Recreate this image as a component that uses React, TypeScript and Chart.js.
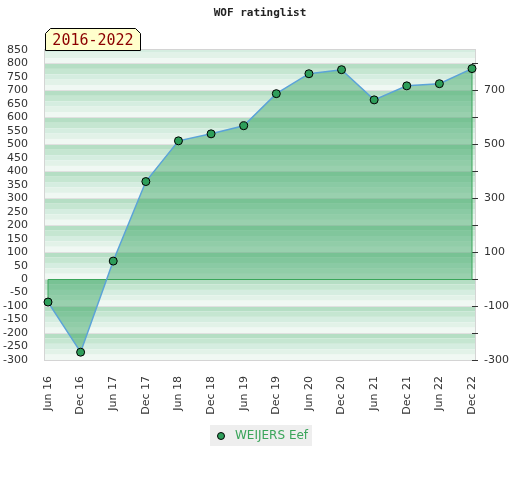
import React, { useEffect, useRef } from "react";
import { Chart, registerables } from "chart.js";

Chart.register(...registerables);

const categories = ["Jun 16", "Dec 16", "Jun 17", "Dec 17", "Jun 18", "Dec 18", "Jun 19", "Dec 19", "Jun 20", "Dec 20", "Jun 21", "Dec 21", "Jun 22", "Dec 22"];
const ratings = [-85, -271, 67, 362, 513, 539, 569, 688, 762, 777, 665, 717, 725, 781];
const seriesName = "WEIJERS Eef";
const chartTitle = "WOF ratinglist";
const badgeText = "2016-2022";

const STRIPES = ["#b5dec4", "#c5e6d1", "#d5ede0", "#e2f2e8", "#f0f8f3"];
const EXT = 3;

const bgPlugin = {
  id: "bgStripes",
  beforeDraw(chart: any) {
    const { ctx, chartArea } = chart;
    const y = chart.scales.y;
    const l = chartArea.left - EXT;
    const r = chartArea.right + EXT;
    ctx.save();
    ctx.fillStyle = "#ffffff";
    ctx.fillRect(0, 0, chart.width, chart.height);
    ctx.beginPath();
    ctx.rect(l, chartArea.top, r - l, chartArea.bottom - chartArea.top);
    ctx.clip();
    for (let k = -4; k <= 9; k++) {
      for (let i = 0; i < 5; i++) {
        const v1 = (k + 1) * 100 - 20 * i;
        const v2 = v1 - 20;
        const p1 = y.getPixelForValue(v1);
        const p2 = y.getPixelForValue(v2);
        ctx.fillStyle = STRIPES[i];
        ctx.fillRect(l, p1, r - l, p2 - p1);
      }
    }
    ctx.strokeStyle = "#e0e0e0";
    ctx.lineWidth = 1;
    for (let v = -200; v <= 800; v += 100) {
      const p = Math.round(y.getPixelForValue(v)) + 0.5;
      ctx.beginPath();
      ctx.moveTo(l, p);
      ctx.lineTo(r, p);
      ctx.stroke();
    }
    ctx.restore();
    ctx.save();
    ctx.strokeStyle = "#d4d4d4";
    ctx.lineWidth = 1;
    ctx.strokeRect(l - 0.5, chartArea.top - 0.5, r - l + 1, chartArea.bottom - chartArea.top + 1);
    ctx.restore();

    // title
    ctx.save();
    ctx.fillStyle = "#222";
    ctx.font = "bold 11px 'DejaVu Sans Mono'";
    ctx.textAlign = "center";
    ctx.textBaseline = "middle";
    ctx.fillText(chartTitle, 260, 13);
    // badge
    ctx.beginPath();
    ctx.moveTo(45.5, 50.5);
    ctx.lineTo(45.5, 33.5);
    ctx.lineTo(50.5, 28.5);
    ctx.lineTo(135.5, 28.5);
    ctx.lineTo(140.5, 33.5);
    ctx.lineTo(140.5, 50.5);
    ctx.closePath();
    ctx.fillStyle = "#ffffcc";
    ctx.fill();
    ctx.strokeStyle = "#000";
    ctx.stroke();
    ctx.fillStyle = "#8b0000";
    ctx.font = "15px 'DejaVu Sans Mono'";
    ctx.textAlign = "center";
    ctx.textBaseline = "alphabetic";
    ctx.fillText(badgeText, 93, 45);
    ctx.restore();
  },
  beforeDatasetDraw(chart: any) {
    const { ctx } = chart;
    const x = chart.scales.x;
    const y = chart.scales.y;
    const y0 = Math.round(y.getPixelForValue(0)) + 0.5;
    const xs = x.getPixelForValue(0);
    const xe = x.getPixelForValue(ratings.length - 1);
    ctx.save();
    ctx.strokeStyle = "#3aa55a";
    ctx.lineWidth = 1;
    ctx.beginPath();
    ctx.moveTo(xs, y.getPixelForValue(ratings[0]));
    ctx.lineTo(xs, y0);
    ctx.lineTo(xe, y0);
    ctx.lineTo(xe, y.getPixelForValue(ratings[ratings.length - 1]));
    ctx.stroke();
    ctx.restore();
  },
  afterDraw(chart: any) {
    const { ctx } = chart;
    ctx.save();
    ctx.fillStyle = "#eeeeee";
    ctx.fillRect(210, 425, 102, 21);
    ctx.beginPath();
    ctx.arc(221, 436, 3.5, 0, Math.PI * 2);
    ctx.fillStyle = "#2e9e5a";
    ctx.fill();
    ctx.strokeStyle = "#000";
    ctx.lineWidth = 1;
    ctx.stroke();
    ctx.fillStyle = "#3aa55a";
    ctx.font = "12px 'DejaVu Sans'";
    ctx.textAlign = "left";
    ctx.textBaseline = "middle";
    ctx.fillText(seriesName, 235, 436);
    ctx.restore();
  },
};

export default function App() {
  const ref = useRef<HTMLCanvasElement>(null);
  useEffect(() => {
    document.body.style.margin = "0";
    const canvas = ref.current;
    if (!canvas) return;
    const chart = new Chart(canvas, {
      type: "line",
      data: {
        labels: categories,
        datasets: [
          {
            label: seriesName,
            data: ratings,
            borderColor: "#5ba3d8",
            borderWidth: 1.5,
            backgroundColor: "rgba(46,160,92,0.45)",
            fill: "origin",
            tension: 0,
            pointRadius: 4,
            pointHoverRadius: 4,
            pointBackgroundColor: "#2e9e5a",
            pointBorderColor: "#000",
            pointBorderWidth: 1,
          },
        ],
      },
      options: {
        responsive: false,
        animation: false,
        devicePixelRatio: 1,
        layout: { padding: { left: 0, right: 0, top: 50, bottom: 65 } },
        plugins: {
          legend: { display: false },
          title: { display: false },
          tooltip: { enabled: false },
        },
        scales: {
          x: {
            offset: false,
            grid: { display: false },
            border: { display: false },
            ticks: {
              minRotation: 90,
              maxRotation: 90,
              autoSkip: false,
              padding: 8,
              color: "#333",
              font: { family: "'DejaVu Sans'", size: 11 },
            },
            afterFit(s: any) {
              s.height = 55;
            },
          },
          y: {
            position: "left",
            min: -300,
            max: 850,
            grid: { display: false },
            border: { display: false },
            ticks: {
              stepSize: 50,
              autoSkip: false,
              padding: 12,
              color: "#333",
              font: { family: "'DejaVu Sans'", size: 11 },
            },
            afterFit(s: any) {
              s.width = 48;
            },
          },
          y2: {
            position: "right",
            min: -300,
            max: 850,
            grid: { drawOnChartArea: false, drawTicks: true, tickLength: 6, color: "#333" },
            border: { display: false },
            afterBuildTicks(s: any) {
              s.ticks = s.ticks.filter((t: any) => t.value % 100 === 0);
            },
            ticks: {
              stepSize: 100,
              autoSkip: false,
              padding: 6,
              color: "#333",
              font: { family: "'DejaVu Sans'", size: 11 },
              callback: (v: any) => (Math.abs(Math.round(v / 100)) % 2 === 1 ? String(v) : ""),
            },
            afterFit(s: any) {
              s.width = 48;
            },
          },
        },
      },
      plugins: [bgPlugin],
    });
    return () => chart.destroy();
  }, []);
  return (
    <div style={{ width: 520, height: 480 }}>
      <canvas ref={ref} width={520} height={480} />
    </div>
  );
}
